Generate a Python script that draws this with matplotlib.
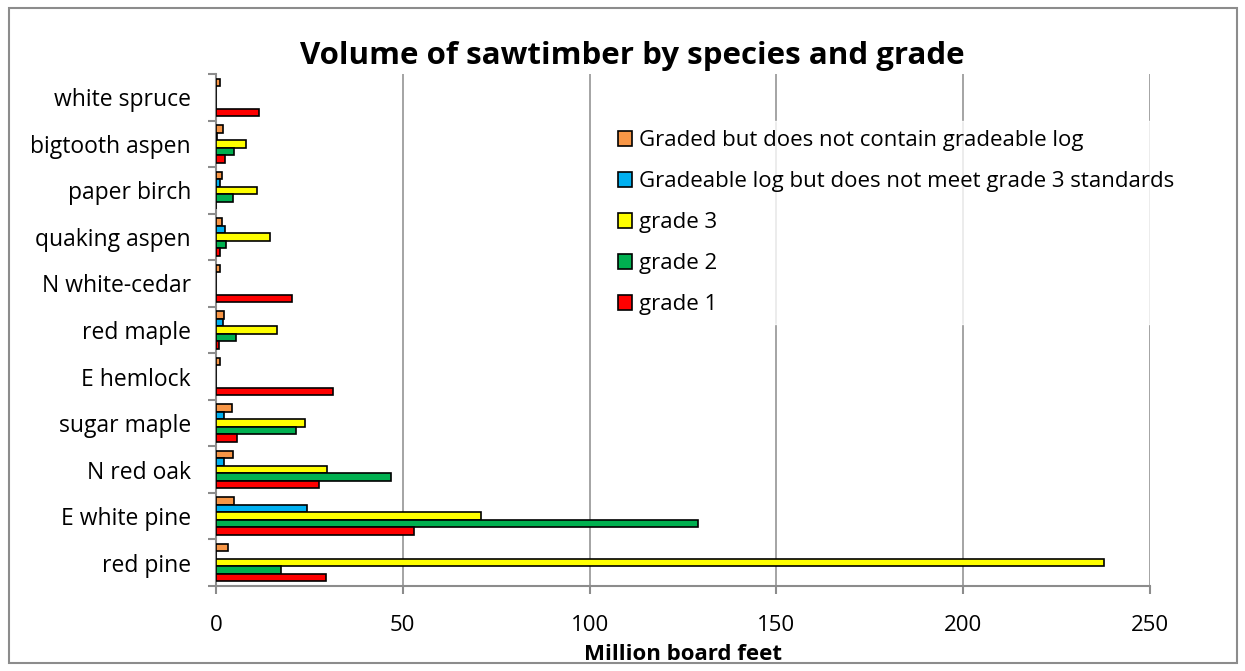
import numpy as np
import matplotlib
matplotlib.use("Agg")
import matplotlib.pyplot as plt
from matplotlib.patches import Rectangle

# species listed bottom to top
species = ["red pine", "E white pine", "N red oak", "sugar maple", "E hemlock",
           "red maple", "N white-cedar", "quaking aspen", "paper birch",
           "bigtooth aspen", "white spruce"]

grade1 = [29.4, 53.0, 27.6, 5.7, 31.3, 0.7, 20.3, 1.2, 0.0, 2.3, 11.5]
grade2 = [17.3, 129.0, 46.8, 21.4, 0.0, 5.3, 0.0, 2.7, 4.5, 4.8, 0.0]
grade3 = [237.7, 71.0, 29.6, 23.9, 0.0, 16.3, 0.0, 14.5, 11.0, 8.1, 0.0]
below_grade3 = [0.0, 24.4, 2.2, 2.1, 0.0, 1.8, 0.0, 2.5, 1.0, 0.2, 0.0]
no_gradeable = [3.3, 4.9, 4.6, 4.2, 1.2, 2.2, 1.2, 1.5, 1.5, 2.0, 1.0]

series_names = ["Graded but does not contain gradeable log",
                "Gradeable log but does not meet grade 3 standards",
                "grade 3", "grade 2", "grade 1"]
colors = ["#F79646", "#00B0F0", "#FFFF00", "#00B050", "#FF0000"]

plt.rcParams["font.family"] = ["Open Sans", "DejaVu Sans"]

fig = plt.figure(figsize=(12.45, 6.71), dpi=100)
ax = fig.add_axes([216 / 1245, 1 - 586 / 671, 934 / 1245, 512 / 671])

y = np.arange(len(species))
h = 0.161
data = [no_gradeable, below_grade3, grade3, grade2, grade1]
offsets = [2 * h, h, 0, -h, -2 * h]

handles = []
for vals, off, col, name in zip(data, offsets, colors, series_names):
    b = ax.barh(y + off, vals, height=h, color=col, edgecolor="black",
                linewidth=1.2, label=name, zorder=3)
    handles.append(b)

ax.set_xlim(0, 250)
ax.set_ylim(-0.5, len(species) - 0.5)
ax.set_xticks(np.arange(0, 251, 50))
ax.grid(axis="x", color="#8c8c8c", linewidth=1.1, zorder=0)

ax.set_yticks(y)
ax.set_yticklabels(species, fontsize=16.5)
ax.tick_params(axis="y", length=0, pad=18)
ax.set_yticks(np.arange(-0.5, len(species), 1), minor=True)
ax.tick_params(axis="y", which="minor", length=6, width=1.5, color="#8c8c8c")
ax.tick_params(axis="x", labelsize=16, length=6, width=1.5, color="#8c8c8c", pad=15)

for s in ["top", "right"]:
    ax.spines[s].set_visible(False)
for s in ["left", "bottom"]:
    ax.spines[s].set_color("#8c8c8c")
    ax.spines[s].set_linewidth(1.5)

ax.set_xlabel("Million board feet", fontsize=16, fontweight="bold", labelpad=6)

fig.text(0.508, 0.917, "Volume of sawtimber by species and grade", ha="center",
         va="center", fontsize=22.5, fontweight="bold")

leg = ax.legend(handles=handles, loc="upper left",
                bbox_to_anchor=(382 / 934, 1 - 36 / 512), frameon=True,
                fontsize=16, handlelength=0.65, handleheight=0.65,
                handletextpad=0.3, labelspacing=0.9, borderpad=0.4,
                fancybox=False)
leg.get_frame().set_facecolor("white")
leg.get_frame().set_edgecolor("white")
leg.set_zorder(5)

fig.patches.append(Rectangle((9 / 1245, 8 / 671), 1228 / 1245, 655 / 671,
                             transform=fig.transFigure, fill=False,
                             edgecolor="#8c8c8c", linewidth=1.5))

fig.savefig("out.png", dpi=100)
